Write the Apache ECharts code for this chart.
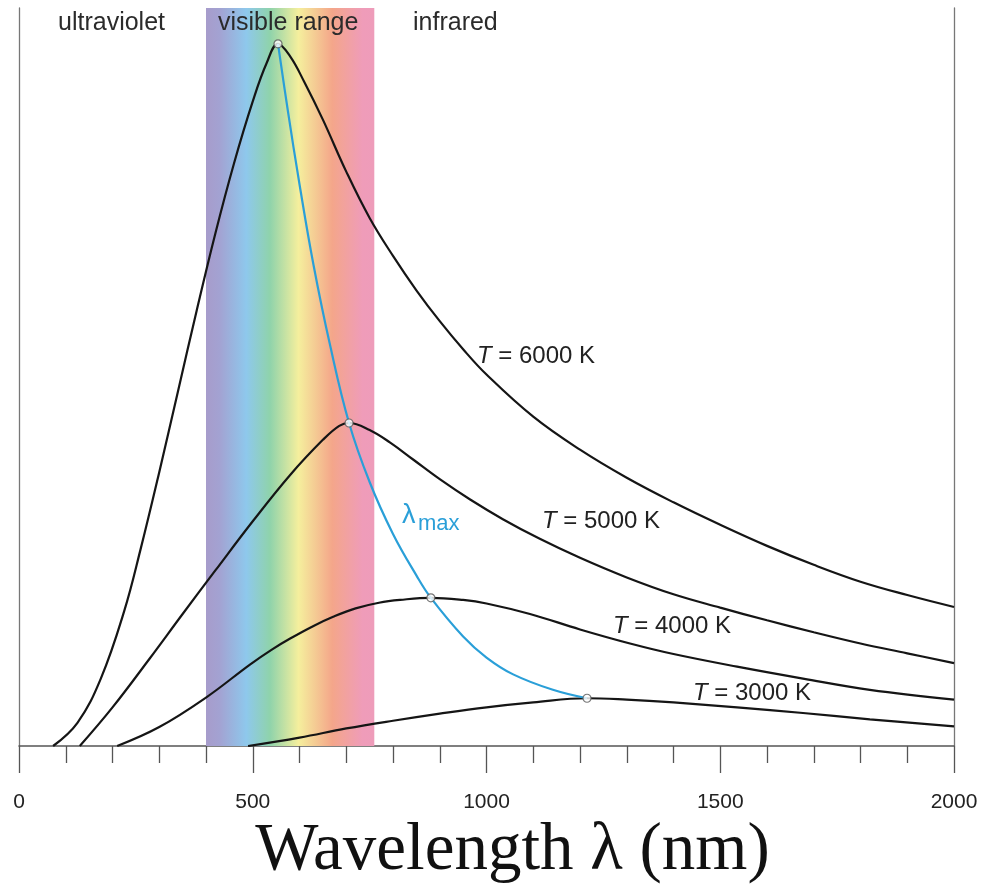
<!DOCTYPE html>
<html><head><meta charset="utf-8">
<script src="https://cdn.jsdelivr.net/npm/echarts@6/dist/echarts.min.js"></script>
<style>html,body{margin:0;padding:0;background:#fff}#c{width:984px;height:884px}</style>
</head><body><div id="c"></div>
<script>
// Wavelength (nm) vs relative spectral intensity (6000 K peak = 100)
const xTickValues = [0, 500, 1000, 1500, 2000];
const visibleRange = [400, 760];
const t6000 = [[73,0],[125,3.3],[175,9.6],[225,19.2],[260,28.0],[300,39.0],[340,50.5],[380,62.0],[420,73.0],[460,83.0],[500,91.8],[530,97.3],[554,100],[580,98.2],[610,94.6],[650,89.2],[700,81.8],[750,75.2],[800,69.8],[850,64.9],[900,60.5],[950,56.5],[1000,52.9],[1100,46.9],[1200,42.2],[1300,38.2],[1400,34.7],[1500,31.5],[1600,28.5],[1700,25.8],[1800,23.4],[1900,21.5],[2000,19.8]];
const t5000 = [[130,0],[200,5.5],[280,12.5],[350,18.8],[420,25.0],[500,32.0],[580,38.6],[650,43.6],[685,45.6],[706,46.0],[750,45.0],[794,43.2],[843,40.8],[900,38.0],[965,35.1],[1035,32.3],[1114,29.5],[1200,26.8],[1300,24.0],[1400,21.6],[1500,19.7],[1600,17.9],[1700,16.2],[1800,14.6],[1900,13.2],[2000,11.8]];
const t4000 = [[210,0],[300,2.7],[400,6.9],[494,11.6],[540,13.7],[580,15.3],[630,17.1],[672,18.4],[720,19.6],[770,20.4],[815,20.8],[881,21.1],[950,20.8],[1000,20.3],[1093,18.8],[1200,16.6],[1307,14.6],[1400,13.1],[1536,11.3],[1677,9.6],[1820,8.0],[2000,6.6]];
const t3000 = [[490,0],[600,1.2],[700,2.5],[800,3.6],[900,4.6],[1000,5.5],[1100,6.2],[1215,6.8],[1300,6.6],[1400,6.2],[1536,5.5],[1677,4.7],[1820,3.8],[2000,2.8]];
const lambdaMax = [[554,100],[575,90.5],[600,80.0],[630,68.5],[665,57.2],[706,46.0],[750,37.6],[800,30.2],[850,24.3],[881,21.1],[950,15.6],[1000,12.6],[1057,10.2],[1142,8.0],[1215,6.8]];
const peakPoints = [[554,100],[706,46.0],[881,21.1],[1215,6.8]];
const curveLabels = ['T = 6000 K', 'T = 5000 K', 'T = 4000 K', 'T = 3000 K'];
const regionLabels = ['ultraviolet', 'visible range', 'infrared'];

const chart = echarts.init(document.getElementById('c'), null, {renderer: 'canvas'});
const SANS = 'Liberation Sans, Arial, sans-serif';
const band = new echarts.graphic.LinearGradient(0, 0, 1, 0, [
  {offset: 0, color: '#a79ccb'},
  {offset: 0.08, color: '#a3a2d2'},
  {offset: 0.24, color: '#8ec8ec'},
  {offset: 0.38, color: '#8fd3ab'},
  {offset: 0.55, color: '#f5ef9d'},
  {offset: 0.75, color: '#f4a68a'},
  {offset: 0.93, color: '#ef9cb9'},
  {offset: 1, color: '#ee9cba'}
]);
function curve(name, data) {
  return {name, type: 'line', data, smooth: 0.4, symbol: 'none', z: 3,
    lineStyle: {color: '#151515', width: 2.2}};
}
function tLabel(text, left, midY) {
  return {type: 'text', left, top: midY - 12, z: 10, style: {
    text: text.replace(/^T/, '{i|T}'), font: '24px ' + SANS, fill: '#222',
    rich: {i: {fontStyle: 'italic', fontSize: 24, fontFamily: SANS, fill: '#222'}}}};
}
function topLabel(text, left) {
  return {type: 'text', left, top: 11, z: 10, style: {text, font: '25px ' + SANS, fill: '#2b2b2b'}};
}
chart.setOption({
  animation: false,
  grid: {left: 19, right: 30, top: 8, bottom: 138, containLabel: false, outerBoundsMode: 'none'},
  xAxis: {
    type: 'value', min: 0, max: 2000, interval: 500,
    name: 'Wavelength λ (nm)', nameLocation: 'middle', nameGap: 70,
    nameTextStyle: {fontFamily: 'Liberation Serif, Times New Roman, serif', fontSize: 67, color: '#111', padding: [0, 0, 0, 52]},
    axisLine: {show: true, lineStyle: {color: '#555', width: 1.5}},
    axisTick: {show: true, length: 27, lineStyle: {color: '#555', width: 1.3}, customValues: xTickValues},
    minorTick: {show: true, splitNumber: 5, length: 17, lineStyle: {color: '#555', width: 1.3}},
    axisLabel: {customValues: xTickValues, formatter: v => String(v), margin: 46, fontFamily: SANS, fontSize: 21, color: '#222'},
    splitLine: {show: false}
  },
  yAxis: [
    {type: 'value', min: 0, max: 105.1, position: 'left',
     axisLine: {show: true, onZero: false, lineStyle: {color: '#777', width: 1.3}},
     axisTick: {show: false}, axisLabel: {show: false}, splitLine: {show: false}},
    {type: 'value', min: 0, max: 105.1, position: 'right',
     axisLine: {show: true, onZero: false, lineStyle: {color: '#777', width: 1.3}},
     axisTick: {show: false}, axisLabel: {show: false}, splitLine: {show: false}}
  ],
  series: [
    {name: 'visible', type: 'line', data: [[visibleRange[0], 0]], symbol: 'none', z: 1,
     lineStyle: {opacity: 0},
     markArea: {silent: true, itemStyle: {color: band, opacity: 1},
       data: [[{xAxis: visibleRange[0]}, {xAxis: visibleRange[1]}]]}},
    curve('6000 K', t6000),
    curve('5000 K', t5000),
    curve('4000 K', t4000),
    curve('3000 K', t3000),
    {name: 'λmax', type: 'line', data: lambdaMax, smooth: 0.4, symbol: 'none', z: 4,
     lineStyle: {color: '#2a9fd8', width: 2.2}},
    {name: 'peaks', type: 'scatter', data: peakPoints, symbol: 'circle', symbolSize: 8, z: 5,
     itemStyle: {color: '#ffffff', borderColor: '#555', borderWidth: 1.2}}
  ],
  graphic: [
    topLabel(regionLabels[0], 58),
    topLabel(regionLabels[1], 218),
    topLabel(regionLabels[2], 413),
    tLabel(curveLabels[0], 477, 356),
    tLabel(curveLabels[1], 542, 521),
    tLabel(curveLabels[2], 613, 626),
    tLabel(curveLabels[3], 693, 693),
    {type: 'text', left: 402, top: 502, z: 10, style: {text: 'λ', font: '27px ' + SANS, fill: '#2a9fd8'}},
    {type: 'text', left: 418, top: 513, z: 10, style: {text: 'max', font: '22px ' + SANS, fill: '#2a9fd8'}}
  ]
});
</script>
</body></html>
